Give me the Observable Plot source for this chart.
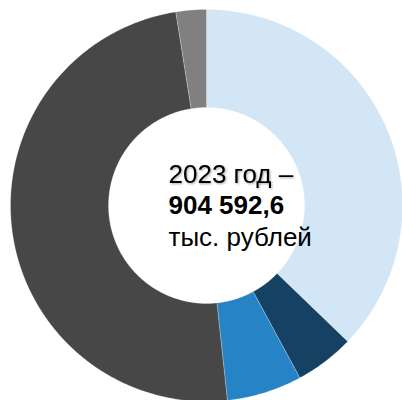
<!DOCTYPE html>
<html>
<head>
<meta charset="utf-8">
<script src="https://cdn.jsdelivr.net/npm/d3@7"></script>
<script src="https://cdn.jsdelivr.net/npm/@observablehq/plot@0.6"></script>
<style>
  html, body { margin: 0; padding: 0; background: #fff; }
  #chart svg { display: block; }
  .shadowed text { filter: drop-shadow(1px 1px 1px rgba(0,0,0,0.35)); }
</style>
</head>
<body>
<div id="chart"></div>
<script>
// Data (shares in %, clockwise from 12 o'clock)
const categories = ["A", "B", "C", "D", "E"];
const shares = [37.2, 4.9, 6.2, 49.2, 2.5];
const colors = ["#D2E6F5", "#154263", "#2683C6", "#474747", "#808080"];
const centerLines = ["2023 год –", "904 592,6", "тыс. рублей"];

const R = 196, r0 = 98;
const pie = d3.pie().sort(null).value(d => d.value)(categories.map((c, i) => ({key: c, value: shares[i], color: colors[i]})));

function arcPoints(sl) {
  const pts = [];
  const n = Math.max(8, Math.ceil((sl.endAngle - sl.startAngle) / (Math.PI / 360)));
  for (let i = 0; i <= n; i++) {
    const a = sl.startAngle + (sl.endAngle - sl.startAngle) * i / n;
    pts.push({x: R * Math.sin(a), y: R * Math.cos(a)});
  }
  for (let i = n; i >= 0; i--) {
    const a = sl.startAngle + (sl.endAngle - sl.startAngle) * i / n;
    pts.push({x: r0 * Math.sin(a), y: r0 * Math.cos(a)});
  }
  pts.push(pts[0]);
  return pts;
}

const font = "Liberation Sans, Arial, sans-serif";
const sliceMarks = pie.map(sl => Plot.line(arcPoints(sl), {
  x: "x", y: "y", fill: sl.data.color, stroke: "#ffffff", strokeWidth: 0.4, strokeOpacity: 0.6
}));

const plot = Plot.plot({
  width: 402,
  height: 400,
  margin: 0,
  x: {domain: [-206, 196], range: [0, 402], axis: null},
  y: {domain: [-195, 205], range: [400, 0], axis: null},
  style: {fontFamily: font, background: "#fff"},
  marks: [
    ...sliceMarks,
    Plot.text([centerLines[0]], {x: -38, y: 31, text: d => d, textAnchor: "start", lineAnchor: "middle", fontSize: 26, fill: "#000", className: "shadowed"}),
    Plot.text([centerLines[1]], {x: -38, y: 0, text: d => d, textAnchor: "start", lineAnchor: "middle", fontSize: 26, fontWeight: "bold", fill: "#000"}),
    Plot.text([centerLines[2]], {x: -38, y: -32, text: d => d, textAnchor: "start", lineAnchor: "middle", fontSize: 26, fill: "#000"})
  ]
});
document.getElementById("chart").appendChild(plot);
</script>
</body>
</html>
